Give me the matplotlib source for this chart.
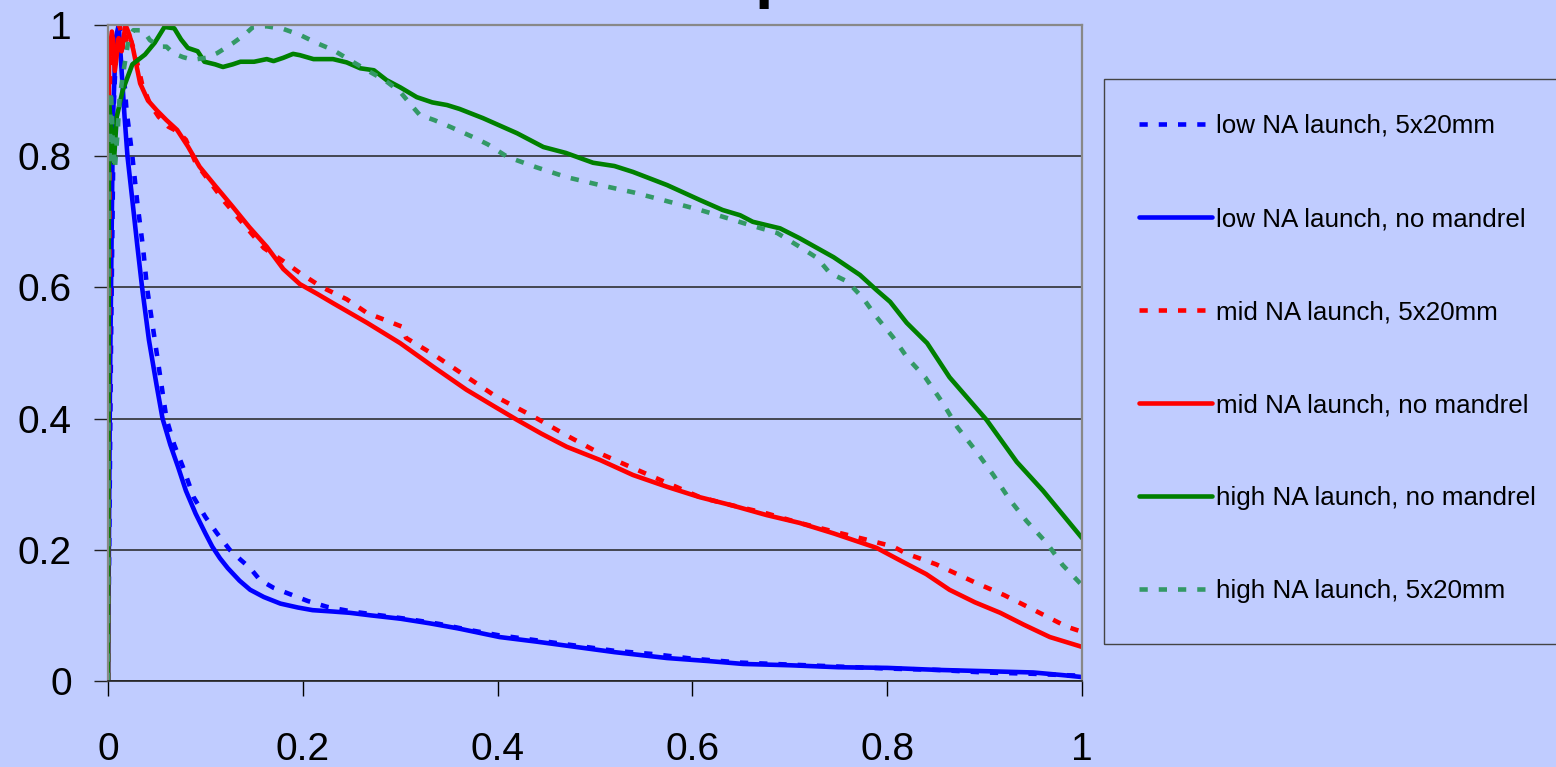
import numpy as np
import matplotlib.pyplot as plt
from matplotlib.patches import Rectangle

### Curves, (x, y) pairs
low_5x20 = [(0, 0), (0.003, 0.5), (0.006, 0.88), (0.009, 0.99), (0.012, 1.0), (0.015, 0.95),
            (0.019, 0.87), (0.025, 0.80), (0.030, 0.73), (0.036, 0.66), (0.040, 0.60), (0.046, 0.54),
            (0.052, 0.48), (0.060, 0.40), (0.068, 0.36), (0.077, 0.326), (0.088, 0.28), (0.100, 0.25),
            (0.112, 0.225), (0.125, 0.20), (0.136, 0.185), (0.146, 0.172), (0.156, 0.154), (0.170, 0.142),
            (0.184, 0.134), (0.205, 0.122), (0.225, 0.113), (0.250, 0.106), (0.280, 0.100), (0.310, 0.094),
            (0.340, 0.087), (0.370, 0.078), (0.400, 0.070), (0.440, 0.062), (0.480, 0.054), (0.520, 0.046),
            (0.560, 0.041), (0.600, 0.034), (0.650, 0.028), (0.700, 0.025), (0.750, 0.022), (0.800, 0.019),
            (0.850, 0.017), (0.900, 0.013), (0.950, 0.011), (0.980, 0.009), (1.000, 0.008)]

low_nomandrel = [(0, 0), (0.002, 0.45), (0.005, 0.85), (0.008, 0.98), (0.011, 1.0), (0.014, 0.93),
                 (0.017, 0.86), (0.020, 0.80), (0.025, 0.733), (0.030, 0.665), (0.035, 0.60), (0.042, 0.52),
                 (0.050, 0.45), (0.056, 0.40), (0.064, 0.36), (0.072, 0.326), (0.080, 0.29), (0.090, 0.255),
                 (0.100, 0.225), (0.107, 0.205), (0.115, 0.187), (0.123, 0.172), (0.135, 0.153), (0.146, 0.139),
                 (0.160, 0.128), (0.177, 0.118), (0.195, 0.112), (0.210, 0.108), (0.230, 0.106), (0.248, 0.104),
                 (0.270, 0.100), (0.300, 0.095), (0.330, 0.088), (0.360, 0.080), (0.402, 0.067), (0.440, 0.060),
                 (0.480, 0.052), (0.520, 0.044), (0.574, 0.035), (0.620, 0.030), (0.652, 0.026), (0.700, 0.024),
                 (0.750, 0.021), (0.800, 0.020), (0.850, 0.017), (0.900, 0.015), (0.950, 0.013), (0.980, 0.009),
                 (1.000, 0.006)]

mid_5x20 = [(0, 0), (0.002, 0.92), (0.005, 0.98), (0.008, 0.95), (0.012, 1.0), (0.016, 0.96),
            (0.020, 0.99), (0.024, 0.975), (0.028, 0.955), (0.035, 0.91), (0.043, 0.88), (0.052, 0.86),
            (0.062, 0.845), (0.071, 0.838), (0.080, 0.825), (0.090, 0.79), (0.105, 0.76), (0.120, 0.73),
            (0.140, 0.695), (0.160, 0.66), (0.180, 0.64), (0.197, 0.622), (0.220, 0.60), (0.245, 0.582),
            (0.266, 0.561), (0.285, 0.55), (0.302, 0.54), (0.306, 0.523), (0.335, 0.497), (0.368, 0.464),
            (0.400, 0.432), (0.437, 0.403), (0.470, 0.375), (0.505, 0.347), (0.540, 0.324), (0.574, 0.302),
            (0.608, 0.28), (0.640, 0.268), (0.675, 0.256), (0.710, 0.241), (0.750, 0.226), (0.780, 0.215),
            (0.806, 0.205), (0.820, 0.194), (0.850, 0.178), (0.892, 0.149), (0.920, 0.131), (0.947, 0.111),
            (0.984, 0.083), (1.000, 0.075)]

mid_nomandrel = [(0, 0), (0.001, 0.95), (0.004, 0.99), (0.007, 0.93), (0.011, 0.98), (0.014, 0.96),
                 (0.018, 1.0), (0.022, 0.985), (0.026, 0.962), (0.033, 0.911), (0.041, 0.885), (0.050, 0.87),
                 (0.060, 0.855), (0.071, 0.84), (0.082, 0.815), (0.094, 0.784), (0.110, 0.755), (0.128, 0.723),
                 (0.145, 0.692), (0.163, 0.662), (0.180, 0.628), (0.197, 0.605), (0.215, 0.59), (0.231, 0.576),
                 (0.266, 0.546), (0.300, 0.515), (0.334, 0.479), (0.368, 0.444), (0.395, 0.42), (0.420, 0.398),
                 (0.445, 0.377), (0.471, 0.357), (0.505, 0.337), (0.539, 0.314), (0.574, 0.296), (0.608, 0.28),
                 (0.640, 0.268), (0.676, 0.253), (0.710, 0.241), (0.745, 0.225), (0.789, 0.203), (0.813, 0.184),
                 (0.840, 0.163), (0.864, 0.139), (0.890, 0.12), (0.916, 0.104), (0.940, 0.086), (0.967, 0.067),
                 (1.000, 0.052)]

high_nomandrel = [(0, 0), (0.001, 0.88), (0.003, 0.85), (0.006, 0.79), (0.009, 0.86), (0.015, 0.90),
                  (0.025, 0.94), (0.038, 0.955), (0.048, 0.973), (0.058, 0.997), (0.068, 0.995), (0.075, 0.978),
                  (0.082, 0.965), (0.092, 0.96), (0.099, 0.944), (0.110, 0.94), (0.118, 0.936), (0.128, 0.94),
                  (0.136, 0.944), (0.150, 0.944), (0.163, 0.948), (0.170, 0.945), (0.180, 0.95), (0.190, 0.956),
                  (0.197, 0.954), (0.211, 0.948), (0.231, 0.948), (0.245, 0.943), (0.259, 0.934), (0.273, 0.931),
                  (0.286, 0.916), (0.300, 0.905), (0.317, 0.89), (0.333, 0.882), (0.348, 0.878), (0.361, 0.872),
                  (0.385, 0.858), (0.420, 0.835), (0.447, 0.814), (0.470, 0.805), (0.498, 0.79), (0.520, 0.785),
                  (0.539, 0.776), (0.574, 0.756), (0.608, 0.733), (0.631, 0.718), (0.649, 0.71), (0.662, 0.70),
                  (0.690, 0.69), (0.710, 0.675), (0.745, 0.646), (0.772, 0.619), (0.789, 0.596), (0.803, 0.578),
                  (0.820, 0.546), (0.841, 0.515), (0.864, 0.463), (0.902, 0.398), (0.933, 0.334), (0.960, 0.29),
                  (1.000, 0.218)]

high_5x20 = [(0, 0), (0.001, 0.75), (0.003, 0.90), (0.005, 0.82), (0.007, 0.78), (0.010, 0.84),
             (0.012, 0.89), (0.016, 0.93), (0.021, 0.977), (0.026, 0.992), (0.036, 0.992), (0.043, 0.977),
             (0.053, 0.967), (0.060, 0.967), (0.067, 0.957), (0.077, 0.951), (0.087, 0.947), (0.101, 0.95),
             (0.112, 0.957), (0.128, 0.972), (0.140, 0.985), (0.149, 0.997), (0.163, 0.998), (0.180, 0.994),
             (0.197, 0.985), (0.215, 0.972), (0.231, 0.962), (0.250, 0.945), (0.266, 0.931), (0.285, 0.915),
             (0.300, 0.898), (0.313, 0.875), (0.320, 0.863), (0.335, 0.855), (0.351, 0.845), (0.375, 0.829),
             (0.390, 0.818), (0.410, 0.799), (0.440, 0.783), (0.471, 0.768), (0.505, 0.756), (0.539, 0.745),
             (0.570, 0.733), (0.608, 0.718), (0.635, 0.706), (0.659, 0.695), (0.687, 0.683), (0.710, 0.662),
             (0.728, 0.645), (0.741, 0.622), (0.759, 0.609), (0.775, 0.584), (0.789, 0.555), (0.806, 0.524),
             (0.821, 0.492), (0.839, 0.463), (0.857, 0.424), (0.872, 0.387), (0.892, 0.349), (0.909, 0.314),
             (0.926, 0.276), (0.943, 0.244), (0.964, 0.21), (0.980, 0.177), (1.000, 0.146)]

xticks = [0, 0.2, 0.4, 0.6, 0.8, 1]
xticklabels = ['0', '0.2', '0.4', '0.6', '0.8', '1']
yticks = [0, 0.2, 0.4, 0.6, 0.8, 1]
yticklabels = ['0', '0.2', '0.4', '0.6', '0.8', '1']

### Series: data, label, colour, dashed?
series = [(low_5x20, 'low NA launch, 5x20mm', '#0000ff', True),
          (low_nomandrel, 'low NA launch, no mandrel', '#0000ff', False),
          (mid_5x20, 'mid NA launch, 5x20mm', '#ff0000', True),
          (mid_nomandrel, 'mid NA launch, no mandrel', '#ff0000', False),
          (high_nomandrel, 'high NA launch, no mandrel', '#008000', False),
          (high_5x20, 'high NA launch, 5x20mm', '#339966', True)]

bg = '#c0ccff'
plt.rcParams['font.family'] = ['Liberation Sans', 'DejaVu Sans']

fig = plt.figure(figsize=(15.56, 7.67), dpi=100, facecolor=bg)
ax = fig.add_axes([108/1556, 86/767, 974/1556, 656/767], facecolor=bg)

for data, label, col, dashed in series:
    xy = np.array(data)
    if dashed:
        ax.plot(xy[:, 0], xy[:, 1], color=col, lw=3.3, dashes=(1.8, 2.4), label=label)
    else:
        ax.plot(xy[:, 0], xy[:, 1], color=col, lw=3.3, label=label, solid_capstyle='round')

ax.set_xlim(0, 1)
ax.set_ylim(0, 1)
ax.set_xticks(xticks)
ax.set_xticklabels(xticklabels)
ax.set_yticks(yticks)
ax.set_yticklabels(yticklabels)
ax.tick_params(axis='x', direction='out', length=11, width=1, pad=26, labelsize=28, color='black')
ax.tick_params(axis='y', direction='out', length=10, width=1, pad=16, labelsize=28, color='#222222')

### Gridlines and frame
ax.yaxis.grid(True, color='#222222', lw=1.1)
ax.set_axisbelow(True)
for side in ['top', 'right', 'left']:
    ax.spines[side].set_color('#888888')
    ax.spines[side].set_linewidth(1.6)
ax.spines['bottom'].set_color('#222222')
ax.spines['bottom'].set_linewidth(1.2)

### Legend with its own box
fig.patches.append(Rectangle((1104/1556, 1 - 644/767), 480/1556, 565/767, transform=fig.transFigure,
                             facecolor='none', edgecolor='#444444', lw=1.0))
leg = fig.legend(loc='upper left', bbox_to_anchor=(1139/1556, 1 - 114/767), frameon=False, fontsize=18.7,
                 handlelength=2.8, handletextpad=0.15, labelspacing=2.66, borderpad=0, borderaxespad=0)

### Title, cut off at the top edge
fig.text(755/1556, 1 + 5/767, 'p', fontsize=48, fontweight='bold', va='baseline', ha='left')

plt.savefig('out.png', dpi=100, facecolor=bg)
plt.close(fig)
